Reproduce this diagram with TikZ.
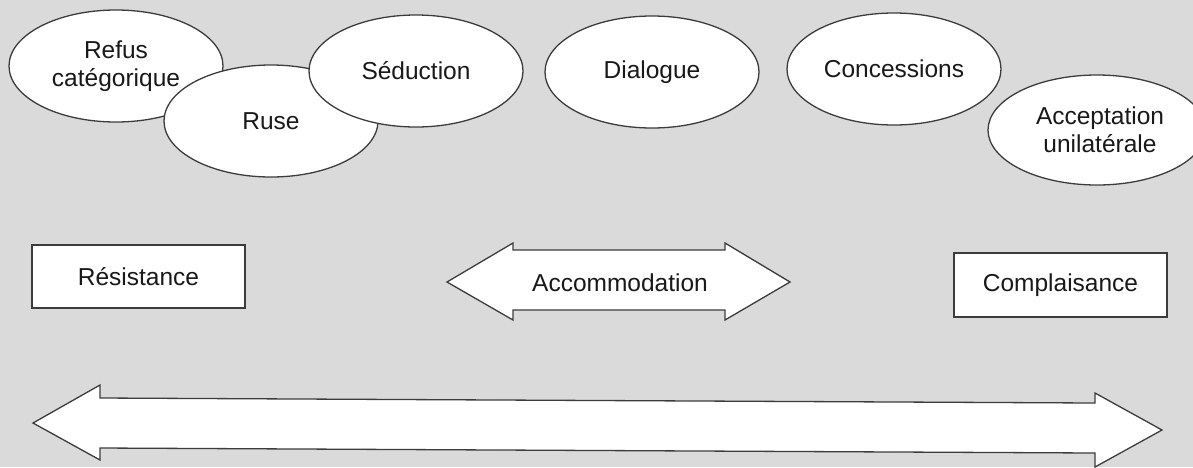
\documentclass[tikz,border=0pt]{standalone}
\usepackage{fontspec}
\setmainfont{Liberation Sans}
\usetikzlibrary{shapes.geometric}
\definecolor{bg}{RGB}{218,218,218}
\definecolor{ink}{RGB}{60,60,60}
\definecolor{txt}{RGB}{25,25,25}
\tikzset{
  oval/.style={ellipse, draw=ink, fill=white, line width=1.3pt, inner sep=0pt,
    minimum width=214pt, minimum height=112pt, align=center, text=txt,
    font=\fontsize{24.5}{28}\selectfont},
  boxnode/.style={rectangle, draw=ink, fill=white, line width=1.3pt, inner sep=0pt,
    minimum width=213pt, minimum height=63pt, text=txt, font=\fontsize{24.5}{28}\selectfont},
  shapeline/.style={draw=ink, fill=white, line width=1.3pt, line join=miter},
  lbl/.style={font=\fontsize{24.5}{28}\selectfont, text=txt, inner sep=0pt}
}
\begin{document}
\begin{tikzpicture}[x=1pt,y=-1pt]
\fill[bg] (0,0) rectangle (1193,467);
\useasboundingbox (0,0) rectangle (1193,467);
\begin{scope}
\clip (0,0) rectangle (1193,467);
% ellipses
\node[oval] (refus) at (116,66) {Refus\\catégorique};
\node[oval] (ruse) at (271,121) {Ruse};
\node[oval] (seduction) at (416,71) {Séduction};
\node[oval] (dialogue) at (652,72) {Dialogue};
\node[oval] (concessions) at (894,69) {Concessions};
\node[oval, minimum width=218pt, minimum height=110pt] (acceptation) at (1097,130) {\hspace*{6pt}Acceptation\\\hspace*{6pt}unilatérale};
% boxes
\node[boxnode] (resistance) at (138.5,276.5) {Résistance};
\node[boxnode, minimum height=64pt] (complaisance) at (1060.5,285) {Complaisance};
% accommodation double arrow
\path[shapeline] (447,282) -- (513,243) -- (513,250) -- (725,250) -- (725,243)
  -- (790,282) -- (725,320) -- (725,310) -- (513,310) -- (513,320) -- cycle;
\node[lbl] (accommodation) at (620,283) {Accommodation};
% big double arrow
\path[shapeline] (33,423) -- (100,385) -- (100,398) -- (1095,403) -- (1095,393)
  -- (1162,430) -- (1095,467) -- (1095,453) -- (100,448) -- (100,460) -- cycle;
\end{scope}
\end{tikzpicture}
\end{document}
